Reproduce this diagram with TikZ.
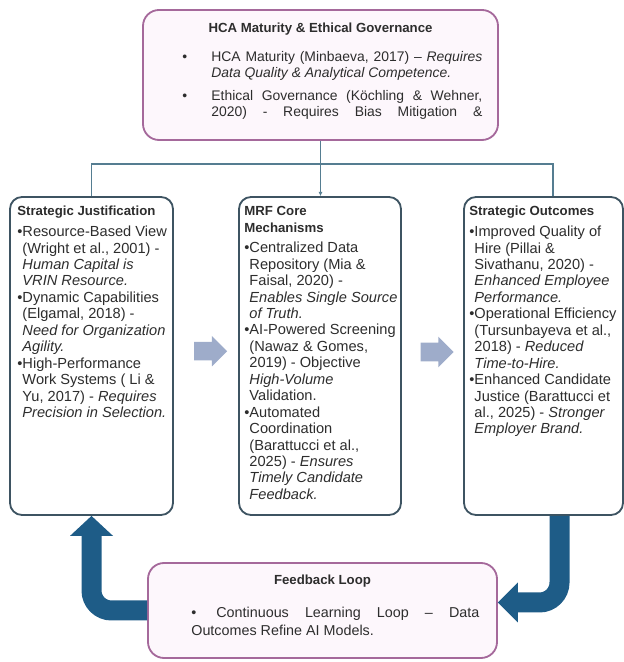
\documentclass[tikz,border=0pt]{standalone}
\usepackage{fontspec}
\setmainfont{Liberation Sans}
\usetikzlibrary{positioning,arrows.meta,calc,shapes.arrows}
\definecolor{pinkline}{RGB}{165,105,155}
\definecolor{pinkfill}{RGB}{253,247,252}
\definecolor{boxline}{RGB}{62,84,98}
\definecolor{hubcol}{RGB}{85,125,145}
\definecolor{flowgray}{RGB}{158,172,202}
\definecolor{loopblue}{RGB}{30,92,135}
\definecolor{txtgray}{RGB}{45,45,45}
\newcommand{\ind}{\phantom{•}}
\newcommand{\ttl}[1]{{\fontsize{9.4}{11.7}\selectfont\bfseries #1}}
\tikzset{
colbox/.style={draw=boxline, line width=1.3pt, rounded corners=0.3cm, fill=white, inner sep=0pt, minimum height=7.95cm},
pinkbox/.style={draw=pinkline, line width=1.3pt, rounded corners=0.4cm, fill=pinkfill, inner sep=0pt},
coltext/.style={anchor=north west, align=left, inner sep=0pt, text=txtgray, font=\fontsize{10.4}{11.7}\selectfont},
ttlnode/.style={inner sep=0pt, text=txtgray, font=\fontsize{9.4}{11.7}\selectfont\bfseries},
hubline/.style={draw=hubcol, line width=0.9pt},
flowarrow/.style={single arrow, fill=flowgray, draw=none, inner sep=0.225cm, minimum height=0.825cm, single arrow head extend=0.15cm},
backloop/.style={draw=loopblue, line width=0.5cm, rounded corners=0.5cm}
}
\begin{document}
\begin{tikzpicture}
\useasboundingbox (0,0) rectangle (15.6,16.55);
\node[pinkbox, minimum width=8.875cm, minimum height=3.25cm] (hca) at (8.0125,14.675) {};
\node[colbox, minimum width=4.075cm] (sj) at (2.2875,7.65) {};
\node[colbox, minimum width=4.05cm] (mrf) at (8,7.65) {};
\node[colbox, minimum width=3.975cm] (so) at (13.5875,7.65) {};
\node[pinkbox, minimum width=8.725cm, minimum height=2.375cm] (fb) at (8.0625,1.2875) {};

\node[ttlnode] (hcatitle) at ([yshift=-0.5cm]hca.north) {HCA Maturity \& Ethical Governance};
\node[coltext, text width=7.5cm, align=justify, font=\fontsize{9.9}{11.3}\selectfont] (hcabody) at ([shift={(1.0,-1.05)}]hca.north west) {\parskip=5pt
\hangindent=0.725cm\hangafter=1\noindent\makebox[0.725cm][l]{•}HCA Maturity (Minbaeva, 2017) – \textit{Requires}\linebreak\textit{Data Quality \& Analytical Competence.}\par
{\parfillskip=0pt\hangindent=0.725cm\hangafter=1\noindent\makebox[0.725cm][l]{•}Ethical Governance (Köchling \& Wehner,\linebreak 2020) - Requires Bias Mitigation \&\par}};

\node[coltext] (sjtext) at ([shift={(0.2,-0.25)}]sj.north west) {\ttl{Strategic Justification}\\[3pt]
•Resource-Based View\\
\ind(Wright et al., 2001) -\\
\ind\textit{Human Capital is}\\
\ind\textit{VRIN Resource.}\\
•Dynamic Capabilities\\
\ind(Elgamal, 2018) -\\
\ind\textit{Need for Organization}\\
\ind\textit{Agility.}\\
•High-Performance\\
\ind Work Systems ( Li \&\\
\ind Yu, 2017) - \textit{Requires}\\
\ind\textit{Precision in Selection.}};

\node[coltext] (mrftext) at ([shift={(0.15,-0.25)}]mrf.north west) {\ttl{MRF Core}\\
\ttl{Mechanisms}\\[3pt]
•Centralized Data\\
\ind Repository (Mia \&\\
\ind Faisal, 2020) -\\
\ind\textit{Enables Single Source}\\
\ind\textit{of Truth.}\\
•AI-Powered Screening\\
\ind(Nawaz \& Gomes,\\
\ind 2019) - Objective\\
\ind\textit{High-Volume}\\
\ind Validation.\\
•Automated\\
\ind Coordination\\
\ind(Barattucci et al.,\\
\ind 2025) - \textit{Ensures}\\
\ind\textit{Timely Candidate}\\
\ind\textit{Feedback.}};

\node[coltext] (sotext) at ([shift={(0.15,-0.25)}]so.north west) {\ttl{Strategic Outcomes}\\[3pt]
•Improved Quality of\\
\ind Hire (Pillai \&\\
\ind Sivathanu, 2020) -\\
\ind\textit{Enhanced Employee}\\
\ind\textit{Performance.}\\
•Operational Efficiency\\
\ind(Tursunbayeva et al.,\\
\ind 2018) - \textit{Reduced}\\
\ind\textit{Time-to-Hire.}\\
•Enhanced Candidate\\
\ind Justice (Barattucci et\\
\ind al., 2025) - \textit{Stronger}\\
\ind\textit{Employer Brand.}};

\node[ttlnode] (fbtitle) at ([yshift=-0.475cm]fb.north) {Feedback Loop};
\node[coltext, text width=7.2cm, align=justify, font=\fontsize{10.2}{12.8}\selectfont] (fbbody) at ([shift={(1.1,-1.125)}]fb.north west) {\hangindent=0.625cm\hangafter=1\noindent\makebox[0.625cm][l]{•}Continuous Learning Loop – Data\linebreak Outcomes Refine AI Models.};

\coordinate (hub) at ([yshift=-0.575cm]hca.south);
\coordinate (sotop) at ([xshift=0.24cm]so.north);
\draw[hubline] (hca.south) -- (hub);
\draw[hubline] (sj.north) |- (hub) -| (sotop);
\draw[hubline, -{Latex[length=3pt,width=3pt]}] (hub) -- (hub |- mrf.north);

\node[flowarrow] (f1) at ($(sj.east)!0.5!(mrf.west)+(0,0.12)$) {};
\node[flowarrow] (f2) at ($(mrf.east)!0.5!(so.west)+(0,0.1)$) {};

\draw[backloop, -{Triangle[width=1.075cm,length=0.5cm,line width=0pt]}] (fb.west) -| (sj.south);
\draw[backloop, -{Triangle[width=1cm,length=0.5cm,line width=0pt]}] ([xshift=0.4cm]so.south) |- ([yshift=0.2cm]fb.east);
\end{tikzpicture}
\end{document}
